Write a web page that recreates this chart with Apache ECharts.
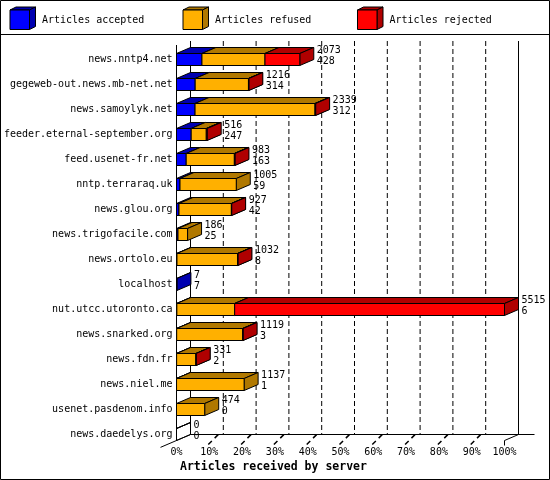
<!DOCTYPE html>
<html><head><meta charset="utf-8">
<script src="https://cdn.jsdelivr.net/npm/echarts@6/dist/echarts.min.js"></script>
<style>html,body{margin:0;padding:0;background:#fff}#c{width:550px;height:480px}</style>
</head><body><div id="c"></div>
<script>
const categories = ['news.nntp4.net','gegeweb-out.news.mb-net.net','news.samoylyk.net','feeder.eternal-september.org','feed.usenet-fr.net','nntp.terraraq.uk','news.glou.org','news.trigofacile.com','news.ortolo.eu','localhost','nut.utcc.utoronto.ca','news.snarked.org','news.fdn.fr','news.niel.me','usenet.pasdenom.info','news.daedelys.org'];
const totals   = [2073,1216,2339,516,983,1005,927,186,1032,7,5515,1119,331,1137,474,0];
const accepted = [428,314,312,247,163,59,42,25,8,7,6,3,2,1,0,0];
const refused  = [1060,896,2017,254,810,946,881,161,1020,0,972,1110,325,1136,474,0];
const rejected = [585,6,10,15,10,0,4,0,4,0,4537,6,4,0,0,0];
const xTicks = [0,10,20,30,40,50,60,70,80,90,100];
const seriesNames = ['Articles accepted','Articles refused','Articles rejected'];
const axisTitle = 'Articles received by server';

const FONT = '"DejaVu Sans Mono", monospace';
const DX = 14, DY = 6, BOXH = 12;
const colors = [['#0000ff','#0000b0'],['#ffb000','#b07800'],['#ff0000','#b00000']];
const maxTotal = Math.max(...totals);
const pct = v => v / maxTotal * 100;
const parts = [accepted, refused, rejected];

function buildSegments(k) {
  const out = [];
  categories.forEach((c, i) => {
    let start = 0;
    for (let j = 0; j < k; j++) start += parts[j][i];
    const v = parts[k][i];
    if (v > 0) out.push([i, pct(start), pct(start + v), 0]);
    else if (k === 0 && totals[i] === 0) out.push([i, 0, 0, 1]);
  });
  return out;
}

function boxItem(k) {
  return function (params, api) {
    const i = api.value(0);
    const a = api.coord([api.value(1), i]);
    const b = api.coord([api.value(2), i]);
    const x0 = a[0], x1 = b[0], yT = a[1] - BOXH / 2, yB = a[1] + BOXH / 2;
    const empty = api.value(3) === 1;
    const front = empty ? 'none' : colors[k][0];
    const dark = empty ? 'none' : colors[k][1];
    const st = { stroke: '#000', lineWidth: 1 };
    return { type: 'group', children: [
      { type: 'polygon', shape: { points: [[x0, yT], [x1, yT], [x1 + DX, yT - DY], [x0 + DX, yT - DY]] }, style: Object.assign({}, st, { fill: dark }) },
      { type: 'polygon', shape: { points: [[x1, yT], [x1 + DX, yT - DY], [x1 + DX, yB - DY], [x1, yB]] }, style: Object.assign({}, st, { fill: dark }) },
      { type: 'rect', shape: { x: x0, y: yT, width: x1 - x0, height: yB - yT }, style: Object.assign({}, st, { fill: front }) }
    ]};
  };
}

function wallItem(params, api) {
  const cs = params.coordSys;
  const last = categories.length - 1;
  const yFront = api.coord([0, last])[1] + BOXH / 2;
  const yBack = yFront - DY;
  const yTopBack = cs.y - DY;
  const x0 = api.coord([xTicks[0], 0])[0];
  const xN = api.coord([xTicks[xTicks.length - 1], 0])[0];
  const ch = [];
  const ln = (x1, y1, x2, y2, extra) => ch.push({ type: 'line', shape: { x1, y1, x2, y2 }, style: Object.assign({ stroke: '#000', lineWidth: 1 }, extra || {}) });
  xTicks.forEach((t, idx) => {
    const xf = api.coord([t, 0])[0];
    const xb = xf + DX;
    const edge = idx === 0 || idx === xTicks.length - 1;
    ln(xb, yTopBack, xb, yBack, edge ? null : { lineDash: [5, 3] });
    if (!edge) ln(xf - 1, yFront + 4, xf + 9, yBack, { lineWidth: 1.5, lineDash: [5, 4] });
  });
  ln(xN, yFront, xN, yFront + 5);
  ln(x0 + DX, yBack, xN + DX + 16, yBack);
  const k = DY / DX;
  ln(x0 - 16, yFront + 16 * k, x0 + DX, yBack);
  ln(xN, yFront, xN + DX, yBack);
  ln(x0, cs.y - 2, x0, yFront);
  return { type: 'group', children: ch };
}

function labelItem(params, api) {
  const i = api.value(0);
  const p = api.coord([api.value(1), i]);
  const x = p[0] + DX + 3;
  const ts = t => ({ text: t, fill: '#000', font: '10px ' + FONT, align: 'left', verticalAlign: 'middle' });
  return { type: 'group', children: [
    { type: 'text', x: x, y: p[1] - 9.5, style: ts(String(api.value(2))) },
    { type: 'text', x: x, y: p[1] + 1.5, style: ts(String(api.value(3))) }
  ]};
}

const legendX = [10, 183, 357.5];
const legendGraphics = [];
seriesNames.forEach((name, k) => {
  const x = legendX[k], y = 10, s = 19.5, d = 6, e = 3;
  legendGraphics.push({ type: 'polygon', shape: { points: [[x, y], [x + s, y], [x + s + d, y - e], [x + d, y - e]] }, style: { fill: colors[k][1], stroke: '#000', lineWidth: 1 } });
  legendGraphics.push({ type: 'polygon', shape: { points: [[x + s, y], [x + s + d, y - e], [x + s + d, y + s - e], [x + s, y + s]] }, style: { fill: colors[k][1], stroke: '#000', lineWidth: 1 } });
  legendGraphics.push({ type: 'rect', shape: { x: x, y: y, width: s, height: s }, style: { fill: colors[k][0], stroke: '#000', lineWidth: 1 } });
  legendGraphics.push({ type: 'text', x: x + 32, y: 20, style: { text: name, fill: '#000', font: '10px ' + FONT, align: 'left', verticalAlign: 'middle' } });
});

const chart = echarts.init(document.getElementById('c'), null, { renderer: 'canvas' });
chart.setOption({
  animation: false,
  backgroundColor: '#fff',
  grid: { left: 176.5, top: 47, width: 328, height: 400, containLabel: false },
  xAxis: {
    type: 'value', min: 0, max: 100, interval: 10,
    axisLine: { show: false }, axisTick: { show: false }, splitLine: { show: false },
    axisLabel: { formatter: v => v + '%', fontFamily: FONT, fontSize: 10, color: '#000', margin: 0 }
  },
  yAxis: {
    type: 'category', data: categories, inverse: true,
    axisLine: { show: false }, axisTick: { show: false }, splitLine: { show: false },
    axisLabel: { interval: 0, fontFamily: FONT, fontSize: 10, color: '#000', margin: 4 }
  },
  graphic: [
    { type: 'rect', shape: { x: 0.5, y: 0.5, width: 549, height: 479 }, style: { fill: 'none', stroke: '#000', lineWidth: 1 }, z: 10 },
    { type: 'line', shape: { x1: 0, y1: 34.5, x2: 550, y2: 34.5 }, style: { stroke: '#000', lineWidth: 1 } },
    { type: 'text', x: 180, y: 467, style: { text: axisTitle, fill: '#000', font: 'bold 11.5px ' + FONT, align: 'left', verticalAlign: 'middle' } }
  ].concat(legendGraphics),
  series: [
    { type: 'custom', name: 'walls', z: 1, data: [[0, 0]], encode: { x: 1, y: 0 }, renderItem: wallItem, silent: true },
    { type: 'custom', name: seriesNames[0], z: 2, data: buildSegments(0), encode: { x: [1, 2], y: 0 }, renderItem: boxItem(0) },
    { type: 'custom', name: seriesNames[1], z: 2, data: buildSegments(1), encode: { x: [1, 2], y: 0 }, renderItem: boxItem(1) },
    { type: 'custom', name: seriesNames[2], z: 2, data: buildSegments(2), encode: { x: [1, 2], y: 0 }, renderItem: boxItem(2) },
    { type: 'custom', name: 'labels', z: 3, data: categories.map((c, i) => [i, pct(totals[i]), totals[i], accepted[i]]), encode: { x: 1, y: 0 }, renderItem: labelItem }
  ]
});
</script></body></html>
